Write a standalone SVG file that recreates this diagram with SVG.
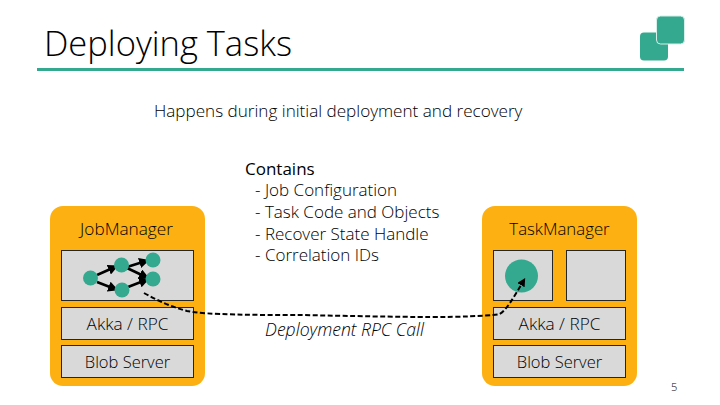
<svg xmlns="http://www.w3.org/2000/svg" width="720" height="405" viewBox="0 0 720 405">
<defs>
<marker id="ah" markerWidth="4" markerHeight="4" refX="2.6" refY="2" orient="auto"><path d="M0,0L4,2L0,4Z" fill="#000"/></marker>
<marker id="ah2" markerWidth="4.2" markerHeight="4.2" refX="3" refY="2.1" orient="auto"><path d="M0,0L4.2,2.1L0,4.2Z" fill="#000"/></marker>
</defs>
<style>
text{font-family:"Open Sans","Noto Sans","Liberation Sans",sans-serif;font-weight:300;fill:#000}
.box{fill:#d9d9d9;stroke:#262626;stroke-width:1}
.mgr{fill:#fdb012}
.lbl{font-size:17.2px;text-anchor:middle}
.blob{font-size:16.5px;text-anchor:middle}
.body{font-size:17px}
.teal{fill:#35a98f}
.e{stroke:#000;stroke-width:2.6;fill:none;marker-end:url(#ah)}
</style>
<rect width="720" height="405" fill="#fff"/>
<g id="header">
<text x="44" y="56" font-size="34.500">Deploying Tasks</text>
<rect x="37" y="68" width="647" height="3" class="teal"/>
<rect x="640" y="32.500" width="28" height="28" rx="4" class="teal"/>
<rect x="656.500" y="16" width="28" height="28" rx="4" class="teal" stroke="#d5f0e8" stroke-width="1"/>
</g>
<text id="subtitle" x="154" y="117" font-size="17.100">Happens during initial deployment and recovery</text>
<g id="contains">
<text x="245" y="175" class="body" style="font-weight:400">Contains</text>
<text x="255" y="196" class="body">- Job Configuration</text>
<text x="255" y="218" class="body">- Task Code and Objects</text>
<text x="255" y="240" class="body">- Recover State Handle</text>
<text x="255" y="261" class="body">- Correlation IDs</text>
</g>
<g id="jobmanager">
<rect x="50" y="206" width="155" height="180" rx="13" class="mgr"/>
<text x="126.500" y="235" class="lbl">JobManager</text>
<rect x="61.500" y="250.500" width="132" height="50" class="box"/>
<rect x="61.500" y="307.500" width="132" height="32" class="box"/>
<text x="127.500" y="330" class="lbl">Akka / RPC</text>
<rect x="61.500" y="345.500" width="132" height="32" class="box"/>
<text x="127.500" y="367.500" class="blob">Blob Server</text>
</g>
<g id="job-graph">
<g>
<path class="e" d="M97,275L115,267"/>
<path class="e" d="M97,282L115,289"/>
<path class="e" d="M127,267L146,261"/>
<path class="e" d="M127,268L146,277"/>
<path class="e" d="M128,287L146,280"/>
</g>
<circle cx="90.500" cy="278" r="7.500" class="teal"/>
<circle cx="121.500" cy="265" r="7.500" class="teal"/>
<circle cx="122" cy="290" r="7.500" class="teal"/>
<circle cx="153" cy="260" r="7.500" class="teal"/>
<circle cx="153" cy="279" r="7.500" class="teal"/>
</g>
<g id="taskmanager">
<rect x="482" y="206" width="155" height="180" rx="13" class="mgr"/>
<text x="559.500" y="235" class="lbl" style="font-size:16.8px">TaskManager</text>
<rect x="493.500" y="250.500" width="59" height="50" class="box"/>
<rect x="566.500" y="250.500" width="59" height="50" class="box"/>
<rect x="493.500" y="307.500" width="132" height="32" class="box"/>
<text x="559.500" y="330" class="lbl">Akka / RPC</text>
<rect x="493.500" y="345.500" width="132" height="32" class="box"/>
<text x="559.500" y="367.500" class="blob">Blob Server</text>
<circle cx="521.500" cy="276" r="16.500" class="teal"/>
</g>
<g id="connectors">
<path d="M144,293C158,301 172,307 187,311C205,315 260,315 300,315C350,316 400,317 430,317C460,317 485,316 498,314.500C505,313 514,297 524,280" fill="none" stroke="#000" stroke-width="2" stroke-dasharray="5 2.500" marker-end="url(#ah2)"/>
</g>
<text id="rpc-label" x="344.500" y="336" font-size="17.600" font-style="italic" text-anchor="middle">Deployment RPC Call</text>
<text id="page" x="671" y="391" font-size="11">5</text>
</svg>
